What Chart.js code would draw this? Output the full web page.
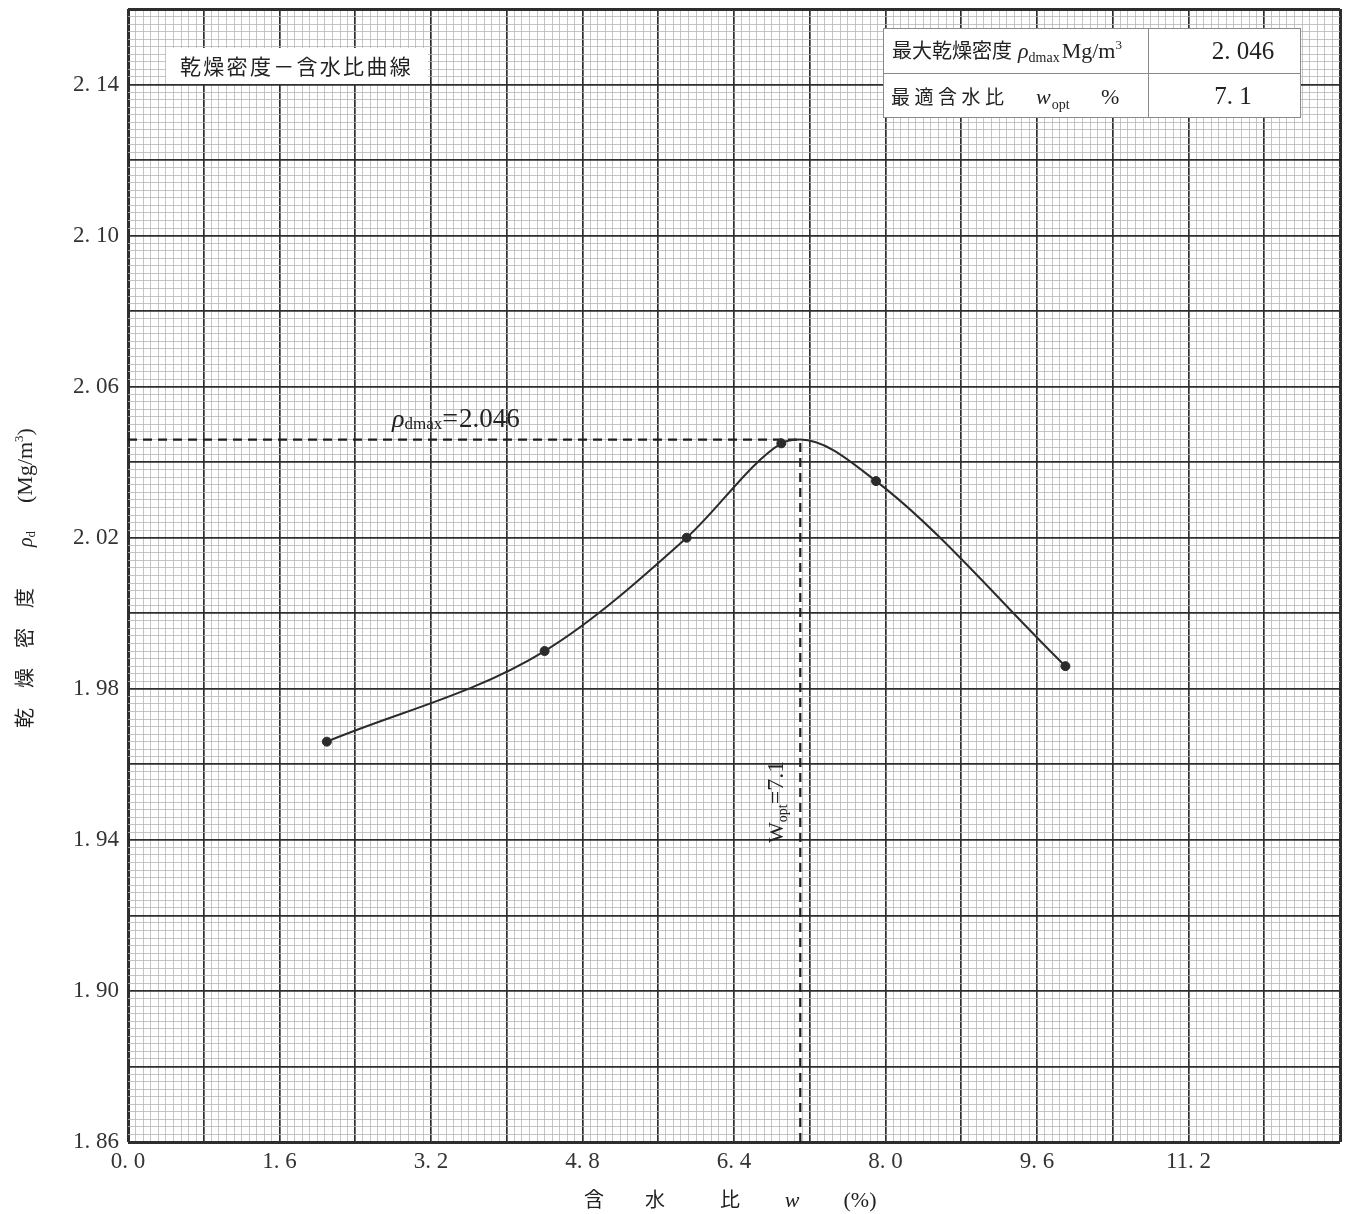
<!DOCTYPE html>
<html>
<head>
<meta charset="utf-8">
<script src="https://cdn.jsdelivr.net/npm/chart.js@4.4.0/dist/chart.umd.min.js"></script>
<style>
  html, body { margin: 0; padding: 0; background: #fff; }
  #wrap { width: 1347px; height: 1214px; }
</style>
</head>
<body>
<div id="wrap"><canvas id="compactionChart"></canvas></div>
<script>
const SERIF = "'Liberation Serif', 'DejaVu Serif', serif";
const JP = "'Noto Sans CJK JP', sans-serif";

// Measured points: water content w (%) and dry density rho_d (Mg/m3)
const waterContent = [2.1, 4.4, 5.9, 6.9, 7.9, 9.9];
const dryDensity = [1.966, 1.990, 2.020, 2.045, 2.035, 1.986];

// Peak of the compaction curve
const wOpt = 7.1;
const rhoMax = 2.046;

// Axis labels printed on the graph paper
const xTickLabels = ['0. 0', '1. 6', '3. 2', '4. 8', '6. 4', '8. 0', '9. 6', '11. 2'];
const yTickLabels = ['1. 86', '1. 90', '1. 94', '1. 98', '2. 02', '2. 06', '2. 10', '2. 14'];

const xMin = 0, xMax = 12.8, xFine = 0.08;
const yMin = 1.86, yMax = 2.16, yFine = 0.002;

let curveData = waterContent.map((w, i) => ({x: w, y: dryDensity[i]}));
curveData.push({x: wOpt, y: rhoMax});
curveData.sort((a, b) => a.x - b.x);

let pointData = waterContent.map((w, i) => ({x: w, y: dryDensity[i]}));

// fine graph-paper ticks, every 10th one is a bold line
let paperTicks = (min, step, count) => {
    let out = [];
    for (let i = 0; i <= count; i++) {
        out.push({value: Math.round((min + i * step) * 10000) / 10000});
    }
    return out;
};

let gridOpts = (last) => ({
    drawTicks: false,
    color: (c) => c.index % 10 === 0 ? '#2e2e2e' : '#b6b6b6',
    lineWidth: (c) => {
        if (c.index === 0 || c.index === last) return 3;
        return c.index % 10 === 0 ? 1.7 : 0.8;
    },
});

// draws pieces of text one after another (for subscripts etc.)
let drawRuns = (ctx, x, y, runs) => {
    for (const r of runs) {
        ctx.font = r.font;
        ctx.fillText(r.t, x, y + (r.dy || 0));
        x += ctx.measureText(r.t).width + (r.gap || 0);
    }
};

const paperText = {
    id: 'paperText',
    beforeDraw(chart) {
        const ctx = chart.ctx;
        ctx.save();
        ctx.fillStyle = '#fff';
        ctx.fillRect(0, 0, chart.width, chart.height);
        ctx.restore();
    },
    afterDraw(chart) {
        const ctx = chart.ctx;
        ctx.save();
        ctx.textBaseline = 'alphabetic';
        ctx.textAlign = 'left';

        // title box
        ctx.fillStyle = '#fff';
        ctx.fillRect(166, 48, 262, 36);
        ctx.fillStyle = '#222';
        ctx.font = `21px ${JP}`;
        [...'乾燥密度－含水比曲線'].forEach((ch, i) => ctx.fillText(ch, 180 + i * 23.3, 74));

        // result table
        ctx.fillStyle = '#fff';
        ctx.fillRect(883, 28, 417, 89);
        ctx.strokeStyle = '#8a8a8a';
        ctx.lineWidth = 1;
        ctx.strokeRect(883.5, 28.5, 417, 89);
        ctx.beginPath();
        ctx.moveTo(1148.5, 28.5); ctx.lineTo(1148.5, 117.5);
        ctx.moveTo(883.5, 73.5); ctx.lineTo(1300.5, 73.5);
        ctx.stroke();

        ctx.fillStyle = '#222';
        drawRuns(ctx, 892, 58, [
            {t: '最大乾燥密度', font: `20px ${JP}`, gap: 6},
            {t: 'ρ', font: `italic 22px ${SERIF}`},
            {t: 'dmax', font: `14px ${SERIF}`, dy: 4, gap: 2},
            {t: 'Mg/m', font: `22px ${SERIF}`},
            {t: '3', font: `13px ${SERIF}`, dy: -9},
        ]);
        ctx.font = `19px ${JP}`;
        [...'最適含水比'].forEach((ch, i) => ctx.fillText(ch, 891 + i * 23.5, 104));
        drawRuns(ctx, 1036, 104, [
            {t: 'w', font: `italic 22px ${SERIF}`, gap: 1},
            {t: 'opt', font: `14px ${SERIF}`, dy: 5},
        ]);
        ctx.font = `22px ${SERIF}`;
        ctx.fillText('%', 1101, 104);

        ctx.textAlign = 'center';
        ctx.font = `25px ${SERIF}`;
        ctx.fillText(rhoMax.toFixed(3).replace('.', '. '), 1243, 59);
        ctx.fillText(wOpt.toFixed(1).replace('.', '. '), 1233, 104);
        ctx.textAlign = 'left';

        // rho_dmax annotation above the dashed line
        drawRuns(ctx, 392, 427, [
            {t: 'ρ', font: `italic 26px ${SERIF}`},
            {t: 'dmax', font: `17px ${SERIF}`, dy: 2},
            {t: '=', font: `28px ${SERIF}`, gap: 1},
            {t: rhoMax.toFixed(3), font: `27px ${SERIF}`},
        ]);

        // w_opt annotation beside the vertical dashed line
        ctx.save();
        ctx.translate(783, 790);
        ctx.rotate(-Math.PI / 2);
        drawRuns(ctx, -53, 0, [
            {t: 'W', font: `22px ${SERIF}`},
            {t: 'opt', font: `14px ${SERIF}`, dy: 4},
            {t: '=' + wOpt.toFixed(1), font: `24px ${SERIF}`},
        ]);
        ctx.restore();

        // y axis title
        ctx.save();
        ctx.translate(32, 576);
        ctx.rotate(-Math.PI / 2);
        ctx.font = `20px ${JP}`;
        ['乾', '燥', '密', '度'].forEach((ch, i) => ctx.fillText(ch, -152 + i * 40, 0));
        drawRuns(ctx, 29, 0, [
            {t: 'ρ', font: `italic 20px ${SERIF}`},
            {t: 'd', font: `13px ${SERIF}`, dy: 3},
        ]);
        drawRuns(ctx, 73, 0, [
            {t: '(Mg/m', font: `22px ${SERIF}`},
            {t: '3', font: `13px ${SERIF}`, dy: -9},
            {t: ')', font: `22px ${SERIF}`},
        ]);
        ctx.restore();

        // x axis title
        ctx.textAlign = 'center';
        ctx.font = `20px ${JP}`;
        ctx.fillText('含', 594, 1207);
        ctx.fillText('水', 655, 1207);
        ctx.fillText('比', 730, 1207);
        ctx.font = `italic 22px ${SERIF}`;
        ctx.fillText('w', 792, 1207);
        ctx.font = `22px ${SERIF}`;
        ctx.fillText('(%)', 860, 1207);

        ctx.restore();
    }
};

new Chart(document.getElementById('compactionChart'), {
    type: 'scatter',
    data: {
        datasets: [
            {
                // smooth compaction curve through the points and the peak
                data: curveData,
                showLine: true,
                cubicInterpolationMode: 'monotone',
                borderColor: '#2b2b2b',
                borderWidth: 2,
                pointRadius: 0,
            },
            {
                data: pointData,
                showLine: false,
                pointRadius: 4.5,
                pointBackgroundColor: '#2b2b2b',
                pointBorderColor: '#2b2b2b',
            },
            {
                data: [{x: xMin, y: rhoMax}, {x: wOpt, y: rhoMax}],
                showLine: true,
                borderColor: '#1e1e1e',
                borderWidth: 2.2,
                borderDash: [9, 6],
                pointRadius: 0,
            },
            {
                data: [{x: wOpt, y: yMin}, {x: wOpt, y: rhoMax}],
                showLine: true,
                borderColor: '#1e1e1e',
                borderWidth: 2.2,
                borderDash: [9, 6],
                pointRadius: 0,
            },
        ]
    },
    options: {
        animation: false,
        responsive: true,
        maintainAspectRatio: false,
        layout: {
            padding: {top: 9, right: 7, left: 0, bottom: 0}
        },
        plugins: {
            legend: {display: false},
            tooltip: {enabled: false},
        },
        scales: {
            x: {
                type: 'linear',
                min: xMin,
                max: xMax,
                afterBuildTicks: (axis) => { axis.ticks = paperTicks(xMin, xFine, 160); },
                afterFit: (axis) => {
                    axis.height = 72;
                    axis.paddingLeft = 0;
                    axis.paddingRight = 0;
                },
                border: {display: false},
                grid: gridOpts(160),
                ticks: {
                    autoSkip: false,
                    maxRotation: 0,
                    padding: 6,
                    color: '#333',
                    font: {family: SERIF, size: 23},
                    callback: (v, i) => (i % 20 === 0 && xTickLabels[i / 20]) ? xTickLabels[i / 20] : '',
                },
            },
            y: {
                type: 'linear',
                min: yMin,
                max: yMax,
                afterBuildTicks: (axis) => { axis.ticks = paperTicks(yMin, yFine, 150); },
                afterFit: (axis) => {
                    axis.width = 128;
                    axis.paddingTop = 0;
                    axis.paddingBottom = 0;
                },
                border: {display: false},
                grid: gridOpts(150),
                ticks: {
                    autoSkip: false,
                    padding: 9,
                    color: '#333',
                    font: {family: SERIF, size: 23},
                    callback: (v, i) => (i % 20 === 0 && yTickLabels[i / 20]) ? yTickLabels[i / 20] : '',
                },
            },
        }
    },
    plugins: [paperText],
});
</script>
</body>
</html>
